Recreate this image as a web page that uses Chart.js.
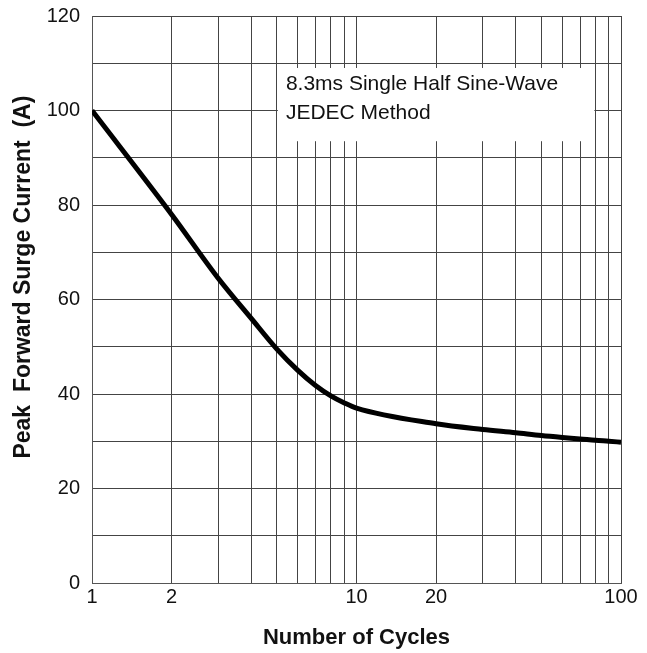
<!DOCTYPE html>
<html>
<head>
<meta charset="utf-8">
<script src="https://cdn.jsdelivr.net/npm/chart.js@4"></script>
<style>
  html, body { margin: 0; padding: 0; background: #fff; }
  #wrap { width: 647px; height: 653px; }
</style>
</head>
<body>
<div id="wrap"><canvas id="chart"></canvas></div>
<script>
// Values
const cycles = [1, 2, 3, 4, 5, 6, 7, 8, 9, 10, 20, 30, 40, 50, 60, 70, 80, 90, 100];
const surgeCurrent = [100, 78, 64.5, 56, 49.5, 45, 41.8, 39.6, 38.1, 37, 33.7, 32.5, 31.8, 31.2, 30.8, 30.5, 30.2, 30, 29.8];

// Tick labels
const xTickLabels = [1, 2, 10, 20, 100];
const xGridValues = [1, 2, 3, 4, 5, 6, 7, 8, 9, 10, 20, 30, 40, 50, 60, 70, 80, 90, 100];
const yTickLabels = [0, 20, 40, 60, 80, 100, 120];

const noteLines = ["8.3ms Single Half Sine-Wave", "JEDEC Method"];

const FONT = "'Liberation Sans', Arial, sans-serif";
const GRID = "#444";

// White note box over the grid, with the test condition text
const notePlugin = {
  id: "note",
  beforeDatasetsDraw(chart) {
    const { ctx, scales } = chart;
    const left = scales.x.getPixelForValue(5) + 1;
    const right = scales.x.getPixelForValue(80) - 1;
    const top = scales.y.getPixelForValue(109);
    const bottom = scales.y.getPixelForValue(93.5);
    ctx.save();
    ctx.fillStyle = "#fff";
    ctx.fillRect(left, top, right - left, bottom - top);
    ctx.fillStyle = "#111";
    ctx.font = "21px " + FONT;
    ctx.textBaseline = "middle";
    ctx.textAlign = "left";
    noteLines.forEach((line, i) => {
      ctx.fillText(line, left + 8, top + 16 + i * 29);
    });
    ctx.restore();
  }
};

new Chart(document.getElementById("chart"), {
  type: "line",
  data: {
    datasets: [{
      data: cycles.map((c, i) => ({ x: c, y: surgeCurrent[i] })),
      borderColor: "#000",
      borderWidth: 5,
      pointRadius: 0,
      fill: false,
      cubicInterpolationMode: "monotone"
    }]
  },
  options: {
    responsive: true,
    maintainAspectRatio: false,
    animation: false,
    layout: { padding: { top: 16, right: 26, left: 0, bottom: 0 } },
    plugins: {
      legend: { display: false },
      tooltip: { enabled: false }
    },
    scales: {
      x: {
        type: "logarithmic",
        min: 1,
        max: 100,
        afterBuildTicks(scale) {
          scale.ticks = xGridValues.map(v => ({ value: v }));
        },
        afterFit(scale) {
          scale.height = 70;
          scale.paddingLeft = 0;
          scale.paddingRight = 0;
        },
        ticks: {
          autoSkip: false,
          maxRotation: 0,
          padding: 2,
          color: "#111",
          font: { family: FONT, size: 20 },
          callback: v => (xTickLabels.includes(v) ? String(v) : "")
        },
        grid: { color: GRID, lineWidth: 1, drawTicks: false },
        border: { color: "#555", width: 1 },
        title: {
          display: true,
          text: "Number of Cycles",
          color: "#111",
          font: { family: FONT, size: 22, weight: "bold" },
          padding: { top: 0, bottom: 2 }
        }
      },
      y: {
        min: 0,
        max: 120,
        afterBuildTicks(scale) {
          const t = [];
          for (let v = 0; v <= 120; v += 10) t.push({ value: v });
          scale.ticks = t;
        },
        afterFit(scale) {
          scale.width = 92;
          scale.paddingTop = 0;
          scale.paddingBottom = 0;
        },
        ticks: {
          autoSkip: false,
          padding: 12,
          color: "#111",
          font: { family: FONT, size: 20 },
          callback: v => (yTickLabels.includes(v) ? String(v) : "")
        },
        grid: { color: GRID, lineWidth: 1, drawTicks: false },
        border: { color: "#555", width: 1 },
        title: {
          display: true,
          text: "       Peak  Forward Surge Current  (A)",
          color: "#111",
          font: { family: FONT, size: 23, weight: "bold" },
          padding: { top: 10, bottom: 0 }
        }
      }
    }
  },
  plugins: [notePlugin]
});
</script>
</body>
</html>
